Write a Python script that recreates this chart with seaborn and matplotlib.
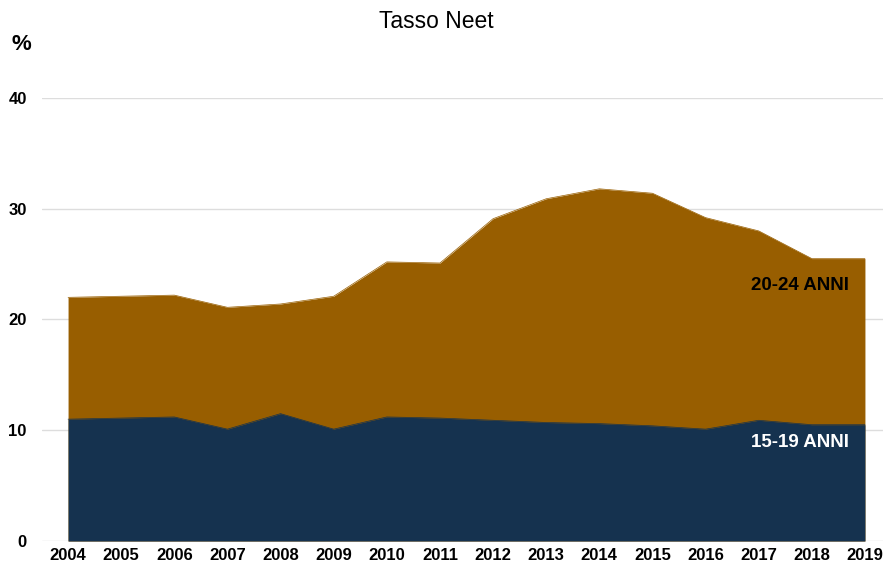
import numpy as np
import pandas as pd
import matplotlib.pyplot as plt
import seaborn as sns

# NEET rate (%) by age group
years = [2004, 2005, 2006, 2007, 2008, 2009, 2010, 2011,
         2012, 2013, 2014, 2015, 2016, 2017, 2018, 2019]
neet_20_24 = [22.0, 22.1, 22.2, 21.1, 21.4, 22.1, 25.2, 25.1,
              29.1, 30.9, 31.8, 31.4, 29.2, 28.0, 25.5, 25.5]
neet_15_19 = [11.0, 11.1, 11.2, 10.1, 11.5, 10.1, 11.2, 11.1,
              10.9, 10.7, 10.6, 10.4, 10.1, 10.9, 10.5, 10.5]

df = pd.DataFrame({"anno": years, "20-24 ANNI": neet_20_24, "15-19 ANNI": neet_15_19})

col_old = "#985e00"
col_young = "#15324f"

sns.set_theme(style="white")
plt.rcParams["font.family"] = ["Liberation Sans", "DejaVu Sans"]

fig = plt.figure(figsize=(8.83, 5.69), dpi=100)
ax = fig.add_axes([0.0476, 0.0492, 0.9524, 0.7786])

# gridlines behind the areas
for v in [0, 10, 20, 30, 40]:
    ax.axhline(v, color="#dddddd", lw=1, zorder=0)

# the two series overlap (not stacked): older group drawn first
sns.lineplot(data=df, x="anno", y="20-24 ANNI", ax=ax, color=col_old, lw=0.5, zorder=2)
ax.fill_between(df["anno"], 0, df["20-24 ANNI"], color=col_old, lw=0, zorder=2)
sns.lineplot(data=df, x="anno", y="15-19 ANNI", ax=ax, color=col_young, lw=0.5, zorder=3)
ax.fill_between(df["anno"], 0, df["15-19 ANNI"], color=col_young, lw=0, zorder=3)

ax.set_xlim(2003.51, 2019.34)
ax.set_ylim(0, 40)
ax.set_xticks(years)
ax.set_xticklabels([str(y) for y in years], fontsize=12, fontweight="bold", color="black")
ax.set_yticks([0, 10, 20, 30, 40])
ax.set_yticklabels(["0", "10", "20", "30", "40"], fontsize=12, fontweight="bold", color="black")
ax.tick_params(axis="y", pad=11, length=0)
ax.tick_params(axis="x", pad=5, length=0)
ax.set_xlabel("")
ax.set_ylabel("")
for s in ax.spines.values():
    s.set_visible(False)

ax.text(2018.7, 23.1, "20-24 ANNI", ha="right", va="center",
        fontsize=13.5, fontweight="bold", color="black", zorder=5)
ax.text(2018.7, 8.9, "15-19 ANNI", ha="right", va="center",
        fontsize=13.5, fontweight="bold", color="white", zorder=5)

fig.text(436 / 883, 1 - 22 / 569, "Tasso Neet", ha="center", va="center",
         fontsize=16.5, color="black")
fig.text(12 / 883, 1 - 45 / 569, "%", ha="left", va="center", fontsize=16,
         fontweight="bold", color="black")

fig.savefig("out.png", dpi=100)
